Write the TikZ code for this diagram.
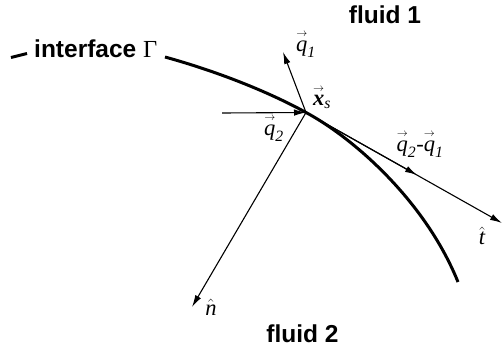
\documentclass[tikz,border=0pt]{standalone}
\usepackage{amsmath}
\usepackage{fontspec}
\setmainfont{Liberation Serif}
\setsansfont{Liberation Sans}
\usetikzlibrary{arrows.meta}
\newcommand\vecq[1]{$\overset{\scriptscriptstyle\rightarrow}{\textit{q}}_{\textit{#1}}$}
\tikzset{
  lab/.style={inner sep=0pt, font=\fontsize{22.5}{26}\selectfont},
  fluid/.style={inner sep=0pt, font=\sffamily\bfseries\fontsize{24.5}{28}\selectfont},
  arr/.style={line width=1.1pt, -{Latex[length=12pt,width=6.5pt]}},
  iface/.style={line width=3pt}
}
\begin{document}
\begin{tikzpicture}[x=1pt,y=-1pt]
\useasboundingbox (0,0) rectangle (502,356);
% points
\coordinate (xs) at (306,112.5);
\coordinate (q1e) at (283,52);
\coordinate (q2s) at (222,113);
\coordinate (ne) at (192,307);
\coordinate (dm) at (417,175);
\coordinate (te) at (502,223);
\coordinate (ia) at (11,57.5);
\coordinate (ib) at (27,53.5);
\coordinate (ic) at (165,57);
\coordinate (id) at (458,282);
% interface
\draw[iface] (ia) -- (ib);
\draw[iface] (ic) .. controls (230,75) and (280,98) .. (xs)
                  .. controls (350,136) and (424,198) .. (id);
% arrows
\draw[arr] (xs) -- (q1e);
\draw[arr] (q2s) -- (xs);
\draw[arr] (xs) -- (ne);
\draw[arr] (xs) -- (dm);
\draw[arr] (xs) -- (te);
% labels
\node[fluid, anchor=base west] (ifc) at (34,57) {interface \rmfamily\mdseries Γ};
\node[fluid, anchor=base] (f1) at (385,23) {fluid 1};
\node[fluid, anchor=base] (f2) at (302.5,342) {fluid 2};
\node[lab] (lq1) at (306,44) {\vecq{1}};
\node[lab] (lxs) at (322,97) {$\overset{\scriptscriptstyle\rightarrow}{\textbf{\textit{x}}}_{\textit{s}}$};
\node[lab] (lq2) at (274,128) {\vecq{2}};
\node[lab] (ld) at (420,144) {\vecq{2}-\vecq{1}};
\node[lab] (lt) at (482,236) {$\hat{\textit{t}}$};
\node[lab] (ln) at (211,307) {$\hat{\textit{n}}$};
\end{tikzpicture}
\end{document}
